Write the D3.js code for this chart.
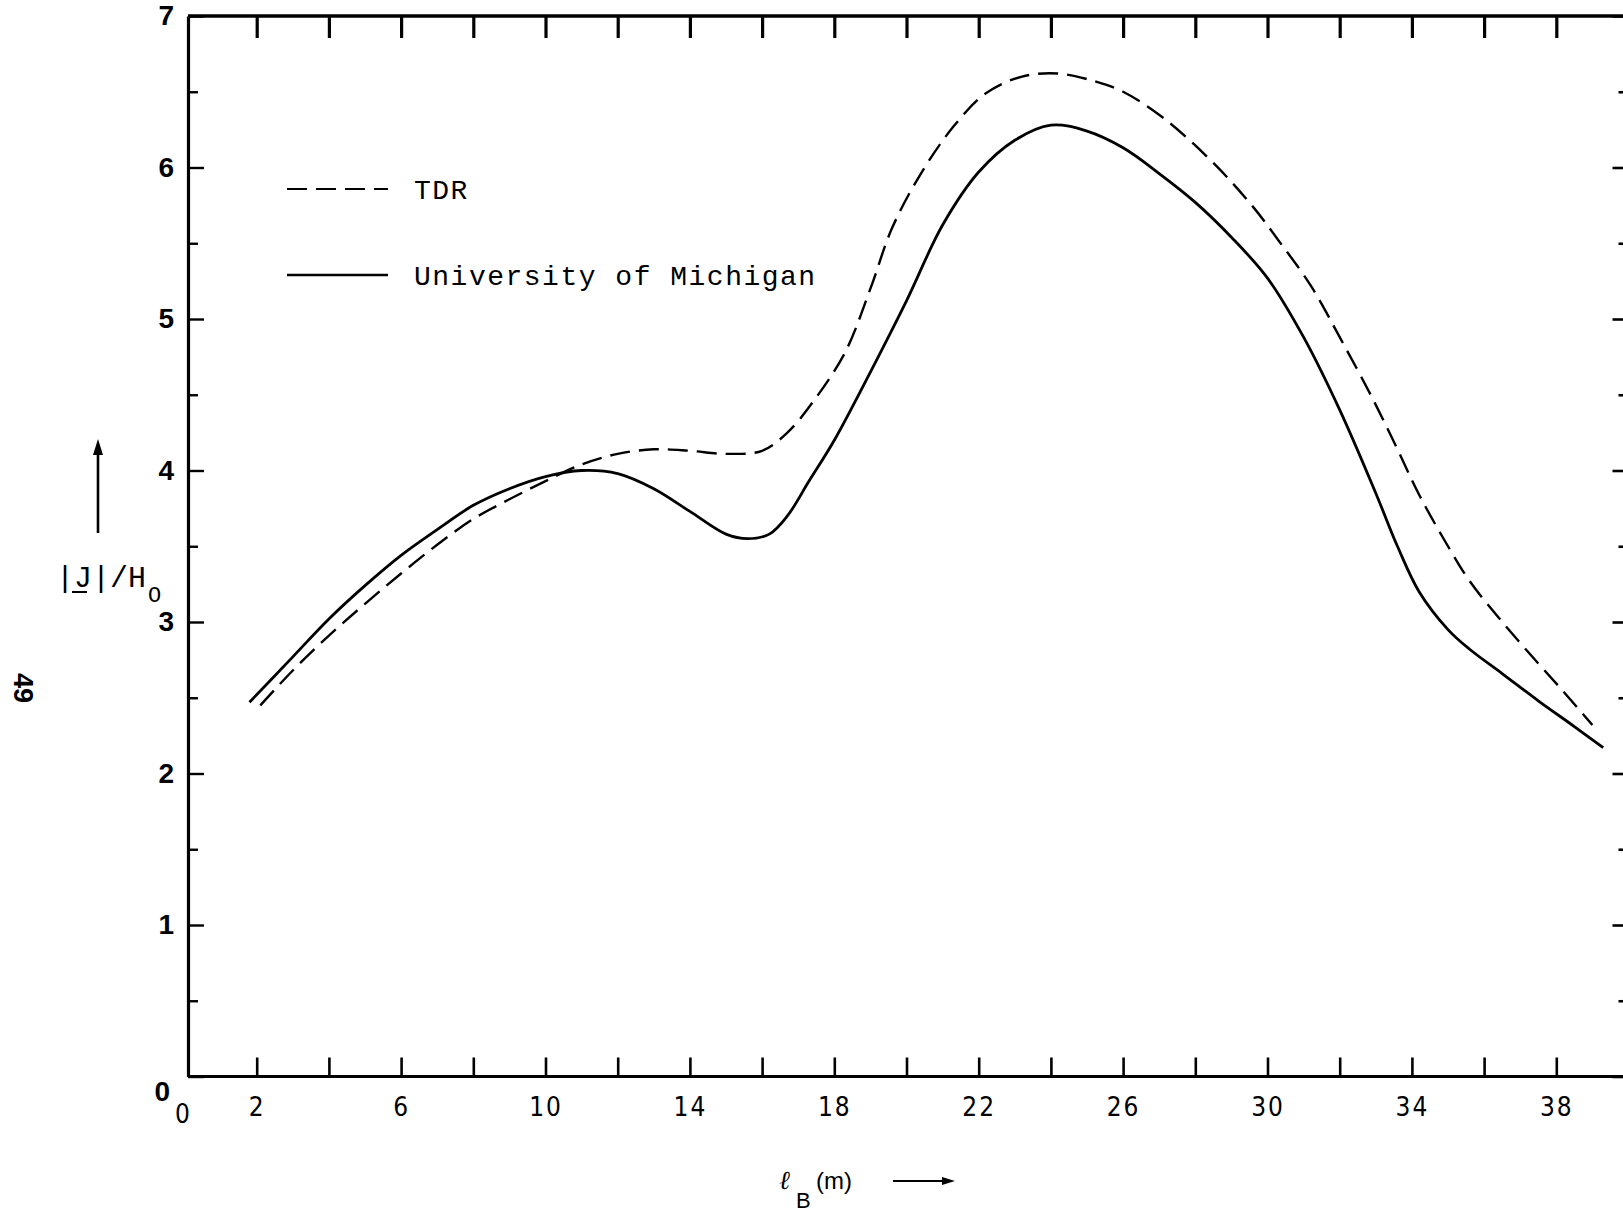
<!DOCTYPE html>
<html>
<head>
<meta charset="utf-8">
<script src="https://cdn.jsdelivr.net/npm/d3@7"></script>
<style>
  html, body { margin: 0; padding: 0; background: #fff; }
  svg { display: block; }
</style>
</head>
<body>
<svg id="chart" width="1623" height="1212"></svg>
<script>
// ticks and labels
const xTickValues = [2, 4, 6, 8, 10, 12, 14, 16, 18, 20, 22, 24, 26, 28, 30, 32, 34, 36, 38]
const xTickLabels = [2, 6, 10, 14, 18, 22, 26, 30, 34, 38]
const yTickValues = [0, 0.5, 1, 1.5, 2, 2.5, 3, 3.5, 4, 4.5, 5, 5.5, 6, 6.5, 7]
const yTickLabels = [0, 1, 2, 3, 4, 5, 6, 7]
const seriesNames = ['TDR', 'University of Michigan']

// TDR (dashed) - [l_B (m), |J|/Ho]
const tdr = [
  [2.1, 2.45], [3, 2.68], [4, 2.91], [5, 3.12], [6, 3.32], [7, 3.51], [8, 3.68],
  [9, 3.81], [10, 3.93], [11, 4.04], [12, 4.11], [13, 4.14], [14, 4.13], [15, 4.11],
  [16, 4.13], [16.7, 4.25], [17.4, 4.45], [18.3, 4.78], [19, 5.2], [19.6, 5.6],
  [20.4, 5.96], [21.3, 6.27], [22.2, 6.49], [23.2, 6.6], [24.2, 6.62], [25.2, 6.57],
  [26, 6.5], [27.1, 6.33], [28.5, 6.03], [29.6, 5.74], [30.3, 5.52], [31.2, 5.22],
  [32, 4.88], [32.9, 4.48], [33.6, 4.14], [34.2, 3.84], [35, 3.5], [35.6, 3.27],
  [36.4, 3.03], [37.3, 2.78], [38.2, 2.54], [39.0, 2.32]
]

// University of Michigan (solid)
const michigan = [
  [1.8, 2.47], [3, 2.77], [4, 3.02], [5, 3.24], [6, 3.44], [7, 3.61], [8, 3.77],
  [9, 3.88], [10, 3.96], [11, 4.0], [12, 3.98], [13, 3.88], [14, 3.73], [15, 3.58],
  [15.6, 3.55], [16.2, 3.58], [16.7, 3.7], [17.3, 3.93], [18, 4.2], [19, 4.65],
  [20, 5.12], [21, 5.62], [22, 5.97], [23, 6.18], [24, 6.28], [25, 6.24], [26, 6.13],
  [27, 5.96], [28, 5.77], [29, 5.54], [30, 5.27], [31, 4.88], [32, 4.4], [33, 3.85],
  [33.6, 3.5], [34.2, 3.2], [35, 2.95], [35.6, 2.82], [36.5, 2.66], [37.5, 2.48],
  [38.5, 2.31], [39.3, 2.17]
]

const svg = d3.select('#chart')

// scales
const x = d3.scaleLinear().domain([0, 40]).range([184.5, 184.5 + 40 * 36.1])
const y = d3.scaleLinear().domain([0, 7]).range([1076.5, 16])
const axisX = 188 // left frame line

const labelFont = '"Liberation Sans", Arial, sans-serif'
const xLabelFont = '"DejaVu Sans", sans-serif'
const monoFont = '"Liberation Mono", "DejaVu Sans Mono", monospace'

// bottom axis
svg.append('g')
  .attr('transform', `translate(0,${y(0)})`)
  .call(d3.axisBottom(x).tickValues(xTickValues).tickSize(-19).tickSizeOuter(0).tickPadding(21)
    .tickFormat(d => xTickLabels.includes(d) ? d : ''))
  .call(g => g.attr('font-family', xLabelFont).attr('font-size', 26).attr('font-stretch', 'condensed'))
  .call(g => g.select('.domain').attr('stroke-width', 3.2).attr('d', `M${axisX},0H${x(40)}`))
  .call(g => g.selectAll('.tick line').attr('stroke-width', 2.6))
  .call(g => g.selectAll('.tick text').attr('fill', '#000').attr('letter-spacing', 2))

// top axis
svg.append('g')
  .attr('transform', `translate(0,${y(7)})`)
  .call(d3.axisTop(x).tickValues(xTickValues).tickSize(-22).tickSizeOuter(0).tickFormat(''))
  .call(g => g.select('.domain').attr('stroke-width', 3.4).attr('d', `M${axisX},0H${x(40)}`))
  .call(g => g.selectAll('.tick line').attr('stroke-width', 3.2))

// left axis
svg.append('g')
  .attr('transform', `translate(${axisX},0)`)
  .call(d3.axisLeft(y).tickValues(yTickValues).tickSize(-16).tickSizeOuter(0).tickPadding(14)
    .tickFormat(d => yTickLabels.includes(d) ? d : ''))
  .call(g => g.attr('font-family', labelFont).attr('font-size', 28).attr('font-weight', 'bold'))
  .call(g => g.select('.domain').attr('stroke-width', 3.2))
  .call(g => g.selectAll('.tick line').attr('stroke-width', 2.4)
    .attr('x2', d => Number.isInteger(d) ? 16 : 10))
  .call(g => g.selectAll('.tick text').attr('fill', '#000')
    .attr('transform', d => d === 0 ? 'translate(-4,15)' : null))

// right axis (sits just past the page edge)
svg.append('g')
  .attr('transform', `translate(${x(40)},0)`)
  .call(d3.axisRight(y).tickValues(yTickValues).tickSize(-16).tickSizeOuter(0).tickFormat(''))
  .call(g => g.select('.domain').attr('stroke-width', 3.2))
  .call(g => g.selectAll('.tick line').attr('stroke-width', 2.6)
    .attr('x2', d => Number.isInteger(d) ? -16 : -10))

// x origin label
svg.append('text')
  .attr('x', x(0) - 2).attr('y', y(0) + 46)
  .attr('text-anchor', 'middle')
  .attr('font-family', xLabelFont).attr('font-size', 26).attr('font-stretch', 'condensed')
  .text('0')

// curves
const line = d3.line()
  .x(d => x(d[0]))
  .y(d => y(d[1]))
  .curve(d3.curveCatmullRom.alpha(0.5))

svg.append('path').datum(tdr)
  .attr('d', line)
  .attr('fill', 'none').attr('stroke', '#000')
  .attr('stroke-width', 2.4).attr('stroke-dasharray', '20,9')

svg.append('path').datum(michigan)
  .attr('d', line)
  .attr('fill', 'none').attr('stroke', '#000')
  .attr('stroke-width', 2.8)

// legend
const legend = svg.append('g')
const legendRows = [
  { name: seriesNames[0], y: 189, dash: '20,9', w: 2.2 },
  { name: seriesNames[1], y: 275, dash: null, w: 2.4 }
]
legendRows.forEach(r => {
  legend.append('line')
    .attr('x1', 287).attr('x2', 388).attr('y1', r.y).attr('y2', r.y)
    .attr('stroke', '#000').attr('stroke-width', r.w)
    .attr('stroke-dasharray', r.dash)
  legend.append('text')
    .attr('x', 414).attr('y', r.y + 10)
    .attr('font-family', monoFont).attr('font-size', 28).attr('letter-spacing', 1.5)
    .text(r.name)
})

// y axis title: |J|/Ho with arrow
const yTitle = svg.append('g')
yTitle.append('line')
  .attr('x1', 98).attr('x2', 98).attr('y1', 533).attr('y2', 452)
  .attr('stroke', '#000').attr('stroke-width', 2.6)
yTitle.append('path')
  .attr('d', 'M98,439 L93,455 L103,455 Z').attr('fill', '#000')
yTitle.append('text')
  .attr('x', 56).attr('y', 587)
  .attr('font-family', monoFont).attr('font-size', 30)
  .text('|J|/H')
yTitle.append('line')
  .attr('x1', 72).attr('x2', 87).attr('y1', 592).attr('y2', 592)
  .attr('stroke', '#000').attr('stroke-width', 2)
yTitle.append('text')
  .attr('x', 148).attr('y', 602)
  .attr('font-family', monoFont).attr('font-size', 22)
  .text('O')

// page number
svg.append('text')
  .attr('transform', 'translate(14,688) rotate(90)')
  .attr('text-anchor', 'middle')
  .attr('font-family', labelFont).attr('font-size', 27).attr('font-weight', 'bold')
  .text('49')

// x axis title: l_B (m) with arrow
const xTitle = svg.append('g')
xTitle.append('text')
  .attr('x', 779).attr('y', 1189)
  .attr('font-family', '"DejaVu Serif", serif').attr('font-style', 'italic').attr('font-size', 26)
  .text('ℓ')
xTitle.append('text')
  .attr('x', 796).attr('y', 1208)
  .attr('font-family', labelFont).attr('font-size', 22)
  .text('B')
xTitle.append('text')
  .attr('x', 816).attr('y', 1189)
  .attr('font-family', labelFont).attr('font-size', 24)
  .text('(m)')
xTitle.append('line')
  .attr('x1', 893).attr('x2', 945).attr('y1', 1181).attr('y2', 1181)
  .attr('stroke', '#000').attr('stroke-width', 2)
xTitle.append('path')
  .attr('d', 'M955,1181 L942,1177 L942,1185 Z').attr('fill', '#000')
</script>
</body>
</html>
